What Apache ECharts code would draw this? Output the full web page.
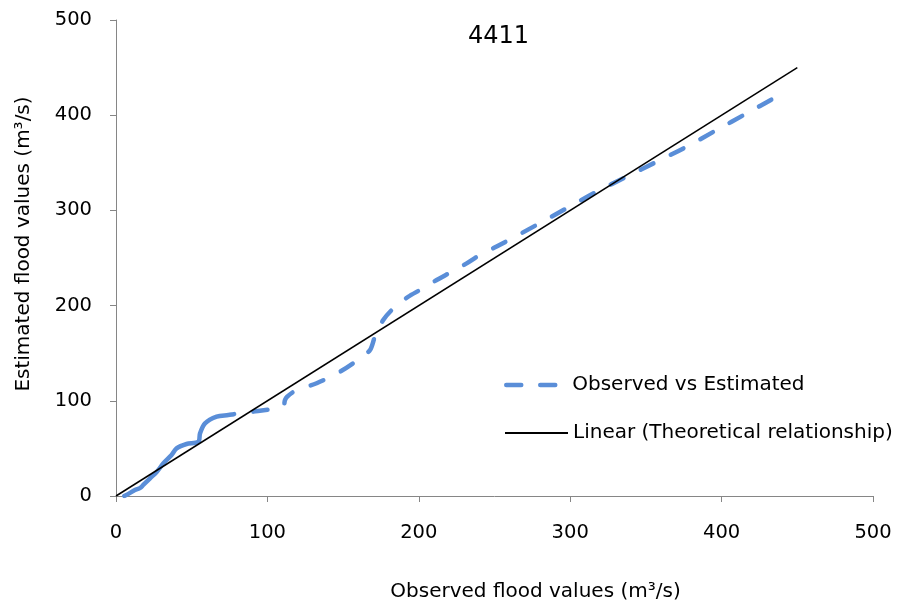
<!DOCTYPE html>
<html>
<head>
<meta charset="utf-8">
<script src="https://cdn.jsdelivr.net/npm/echarts@6/dist/echarts.min.js"></script>
<style>html,body{margin:0;padding:0;background:#fff}#c{width:897px;height:610px}</style>
</head>
<body>
<div id="c"></div>
<script>
const chartTitle = '4411';
// lower part of the curve (dense points, drawn as continuous stroke in the original)
const observedLow = [5.5, 9, 12.5, 16, 18, 22.5, 27, 31.3, 36.7, 40, 46.6, 54.4, 55.5, 58.8, 66.5, 74.2, 78];
const estimatedLow = [0, 3, 6.3, 8.5, 11.6, 18.6, 25.5, 34.3, 43, 50, 54.6, 57, 65.8, 76.3, 83.3, 85, 86];
// upper part of the curve (dashed)
const observedHigh = [78, 90.6, 101.7, 110.5, 111.6, 113, 119.3, 132.5, 148, 161.2, 167.8, 171, 176.5, 183.2, 193, 200.8, 211.8, 220.6, 231.6, 240.4, 251.4, 277.8, 297.6, 317.4, 337.3, 357, 376.9, 396.7, 416.5, 437];
const estimatedHigh = [86, 88.6, 91, 94.5, 100.8, 104.3, 111.3, 118.4, 130.6, 144.6, 153.4, 167.3, 184.9, 197, 209.3, 216.4, 226.9, 234.6, 244.4, 253.2, 262, 284.7, 302.2, 319.6, 335.4, 351, 366.9, 384.4, 401.9, 420];
const linearX = [0, 450];
const linearY = [0, 450];
const axisTicks = [0, 100, 200, 300, 400, 500];
const seriesNames = ['Observed vs Estimated', 'Linear (Theoretical relationship)'];
const xName = 'Observed flood values (m\u00b3/s)';
const yName = 'Estimated flood values (m\u00b3/s)';

const FONT = 'DejaVu Sans';
const FS = 20;
const axisCol = '#868686';
const blue = '#5a8ed8';

const chart = echarts.init(document.getElementById('c'), null, {renderer: 'canvas'});
const axisCommon = {
  type: 'value',
  min: axisTicks[0],
  max: axisTicks[axisTicks.length - 1],
  interval: axisTicks[1] - axisTicks[0],
  axisLine: {show: true, lineStyle: {color: axisCol, width: 1}},
  axisTick: {show: true, inside: false, length: 6, lineStyle: {color: axisCol}},
  splitLine: {show: false},
  axisLabel: {color: '#000', fontFamily: FONT, fontSize: 19.5},
  nameLocation: 'middle'
};
const legendCommon = {
  orient: 'vertical', itemHeight: 14,
  itemStyle: {color: 'rgba(0,0,0,0)', borderWidth: 0, opacity: 0}
};
chart.setOption({
  animation: false,
  backgroundColor: '#fff',
  title: {
    text: chartTitle, left: 463, top: 20,
    textStyle: {fontFamily: FONT, fontSize: 24, fontWeight: 'normal', color: '#000'}
  },
  grid: {left: 116, right: 24, top: 20, bottom: 114, containLabel: false},
  xAxis: Object.assign({}, axisCommon, {
    name: xName, nameGap: 86,
    nameTextStyle: {color: '#000', fontFamily: FONT, fontSize: FS, padding: [0, 0, 0, 82]},
    axisLabel: Object.assign({}, axisCommon.axisLabel, {margin: 27})
  }),
  yAxis: Object.assign({}, axisCommon, {
    name: yName, nameGap: 82,
    nameTextStyle: {color: '#000', fontFamily: FONT, fontSize: FS, padding: [0, 0, 0, 28]},
    axisLabel: Object.assign({}, axisCommon.axisLabel, {margin: 24})
  }),
  legend: [
    Object.assign({}, legendCommon, {
      data: [seriesNames[0]], left: 499, top: 370, itemWidth: 53,
      textStyle: {fontFamily: FONT, fontSize: FS, color: '#000', padding: [0, 0, 0, 8]},
      lineStyle: {type: [15, 19], dashOffset: 0, cap: 'round', width: 4.5}
    }),
    Object.assign({}, legendCommon, {
      data: [seriesNames[1]], left: 499, top: 418, itemWidth: 63,
      textStyle: {fontFamily: FONT, fontSize: FS, color: '#000', padding: [0, 0, 0, 0]}
    })
  ],
  series: [
    {
      name: seriesNames[0], type: 'line', symbol: 'none', smooth: 0.3,
      data: observedHigh.map((x, i) => [x, estimatedHigh[i]]),
      lineStyle: {color: blue, width: 4.5, type: [14, 19.5], dashOffset: 14, cap: 'round', join: 'round'},
      itemStyle: {color: blue}, z: 2
    },
    {
      name: 'lowPart', type: 'line', symbol: 'none', smooth: 0.3,
      data: observedLow.map((x, i) => [x, estimatedLow[i]]),
      lineStyle: {color: blue, width: 4.5, type: 'solid', cap: 'round', join: 'round'},
      itemStyle: {color: blue}, z: 2
    },
    {
      name: seriesNames[1], type: 'line', symbol: 'none',
      data: linearX.map((x, i) => [x, linearY[i]]),
      lineStyle: {color: '#000', width: 1.5, type: 'solid'},
      itemStyle: {color: '#000'}, z: 3
    }
  ]
});
</script>
</body>
</html>
